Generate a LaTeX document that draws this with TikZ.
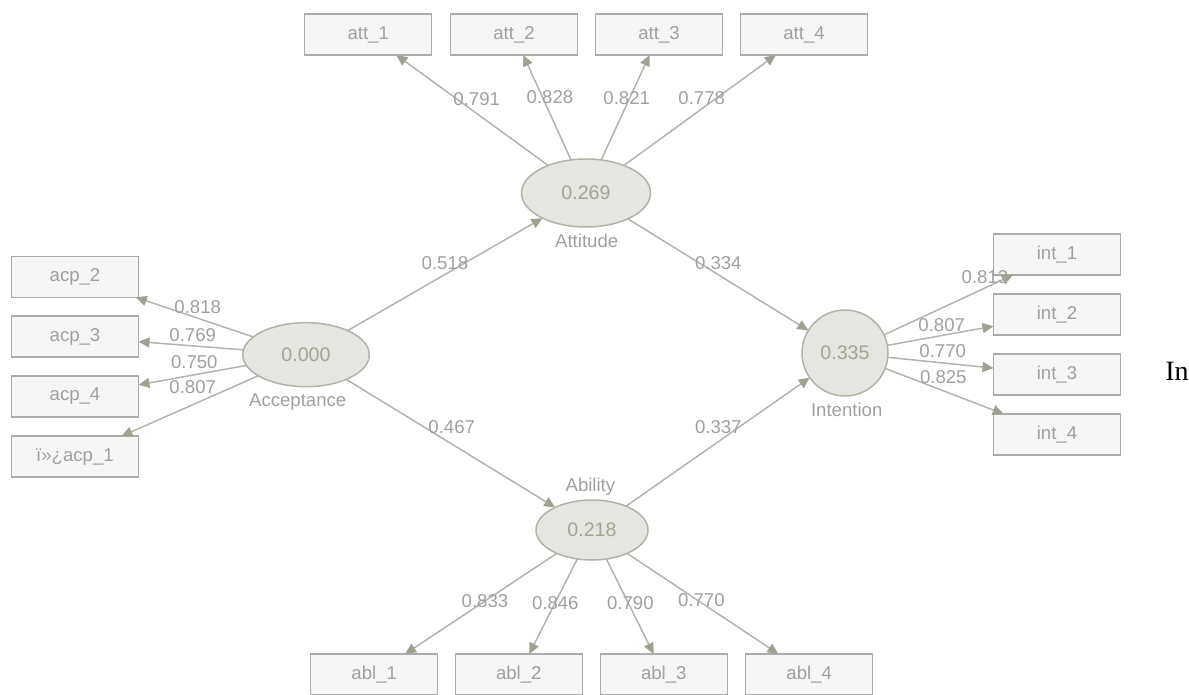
\documentclass[tikz,border=0pt]{standalone}
\usepackage{fontspec}
\setmainfont{Liberation Sans}
\newfontfamily\serifin{Liberation Serif}
\usetikzlibrary{arrows.meta, shapes.geometric}

\definecolor{plsline}{RGB}{180,180,172}
\definecolor{plstip}{RGB}{160,162,145}
\definecolor{plsbox}{RGB}{246,246,246}
\definecolor{plsboxdraw}{RGB}{172,172,172}
\definecolor{plslat}{RGB}{229,229,225}
\definecolor{plslatdraw}{RGB}{178,178,168}
\definecolor{plstext}{RGB}{160,160,160}
\definecolor{plsval}{RGB}{165,165,145}

\tikzset{
  indicator/.style={draw=plsboxdraw, fill=plsbox, line width=0.75pt, minimum width=63.5pt,
    minimum height=20.5pt, inner sep=0pt, outer sep=0pt, text=plstext, font=\fontsize{9.3}{10}\selectfont},
  latent/.style={ellipse, draw=plslatdraw, fill=plslat, line width=0.75pt, inner sep=0pt,
    outer sep=0pt, text=plsval, font=\fontsize{9.8}{11}\selectfont},
  lvname/.style={text=plstext, inner sep=0pt, font=\fontsize{9.3}{10}\selectfont},
  coef/.style={text=plstext, inner sep=0pt, font=\fontsize{9.3}{10}\selectfont},
  path/.style={draw=plsline, line width=0.75pt, -{Triangle[length=5.5pt, width=5pt, fill=plstip, color=plstip]}}
}

\begin{document}
\begin{tikzpicture}[x=0.5pt, y=-0.5pt]
  \useasboundingbox (0,0) rectangle (1189,695);

  % latente Variablen
  \node[latent, minimum width=64.5pt, minimum height=34pt] (att) at (586,193) {0.269};
  \node[latent, minimum width=63.3pt, minimum height=32pt] (acp) at (306,354.7) {0.000};
  \node[latent, circle, minimum size=43pt] (int) at (845,353) {0.335};
  \node[latent, minimum width=56pt, minimum height=30pt] (abl) at (592,530) {0.218};

  \node[lvname] (attname) at (586.7,240.7) {Attitude};
  \node[lvname] (acpname) at (297.7,401.7) {Acceptance};
  \node[lvname] (intname) at (846.7,410) {Intention};
  \node[lvname] (ablname) at (590.4,486.6) {Ability};

  % Indikatoren oben
  \node[indicator] (att1) at (368.2,34.5) {att\_1};
  \node[indicator] (att2) at (514,34.5) {att\_2};
  \node[indicator] (att3) at (659,34.5) {att\_3};
  \node[indicator] (att4) at (804,34.5) {att\_4};

  % Indikatoren links
  \node[indicator] (acp2) at (75,276.8) {acp\_2};
  \node[indicator] (acp3) at (75,336.7) {acp\_3};
  \node[indicator] (acp4) at (75,396.3) {acp\_4};
  \node[indicator] (acp1) at (75,456.7) {ï»¿acp\_1};

  % Indikatoren rechts
  \node[indicator] (int1) at (1057,254.5) {int\_1};
  \node[indicator] (int2) at (1057,314.7) {int\_2};
  \node[indicator] (int3) at (1057,374.5) {int\_3};
  \node[indicator] (int4) at (1057,434.5) {int\_4};

  % Indikatoren unten
  \node[indicator] (abl1) at (374.2,674.5) {abl\_1};
  \node[indicator] (abl2) at (518.8,674.5) {abl\_2};
  \node[indicator] (abl3) at (663.8,674.5) {abl\_3};
  \node[indicator] (abl4) at (809.2,674.5) {abl\_4};

  % Strukturmodell
  \draw[path] (acp) -- (att);
  \draw[path] (acp) -- (abl);
  \draw[path] (att) -- (int);
  \draw[path] (abl) -- (int);

  % Messmodelle
  \draw[path] (att) -- (att1);
  \draw[path] (att) -- (att2);
  \draw[path] (att) -- (att3);
  \draw[path] (att) -- (att4);
  \draw[path] (acp) -- (acp2);
  \draw[path] (acp) -- (acp3);
  \draw[path] (acp) -- (acp4);
  \draw[path] (acp) -- (acp1);
  \draw[path] (int) -- (int1);
  \draw[path] (int) -- (int2);
  \draw[path] (int) -- (int3);
  \draw[path] (int) -- (int4);
  \draw[path] (abl) -- (abl1);
  \draw[path] (abl) -- (abl2);
  \draw[path] (abl) -- (abl3);
  \draw[path] (abl) -- (abl4);

  % Pfadkoeffizienten
  \node[coef] (c518) at (445,263.3) {0.518};
  \node[coef] (c334) at (718.3,263.3) {0.334};
  \node[coef] (c467) at (451.7,426.7) {0.467};
  \node[coef] (c337) at (718.3,427.3) {0.337};

  % Ladungen
  \node[coef] (l791) at (476.7,99) {0.791};
  \node[coef] (l828) at (550,96.7) {0.828};
  \node[coef] (l821) at (626.7,97.7) {0.821};
  \node[coef] (l778) at (701.7,98.3) {0.778};
  \node[coef] (l818) at (197.7,307.3) {0.818};
  \node[coef] (l769) at (192.7,335) {0.769};
  \node[coef] (l750) at (194.3,361.7) {0.750};
  \node[coef] (l807a) at (192.7,386.7) {0.807};
  \node[coef] (l813) at (985,276.7) {0.813};
  \node[coef] (l807b) at (941.7,325) {0.807};
  \node[coef] (l770a) at (942.7,350.7) {0.770};
  \node[coef] (l825) at (943.3,377.3) {0.825};
  \node[coef] (l833) at (485,600.6) {0.833};
  \node[coef] (l846) at (555.3,603.5) {0.846};
  \node[coef] (l790) at (630.4,603.5) {0.790};
  \node[coef] (l770b) at (701.4,599.8) {0.770};

  \node[anchor=base west, inner sep=0pt, font=\serifin\fontsize{14}{16}\selectfont] (intext) at (1165,380) {In};
\end{tikzpicture}
\end{document}
